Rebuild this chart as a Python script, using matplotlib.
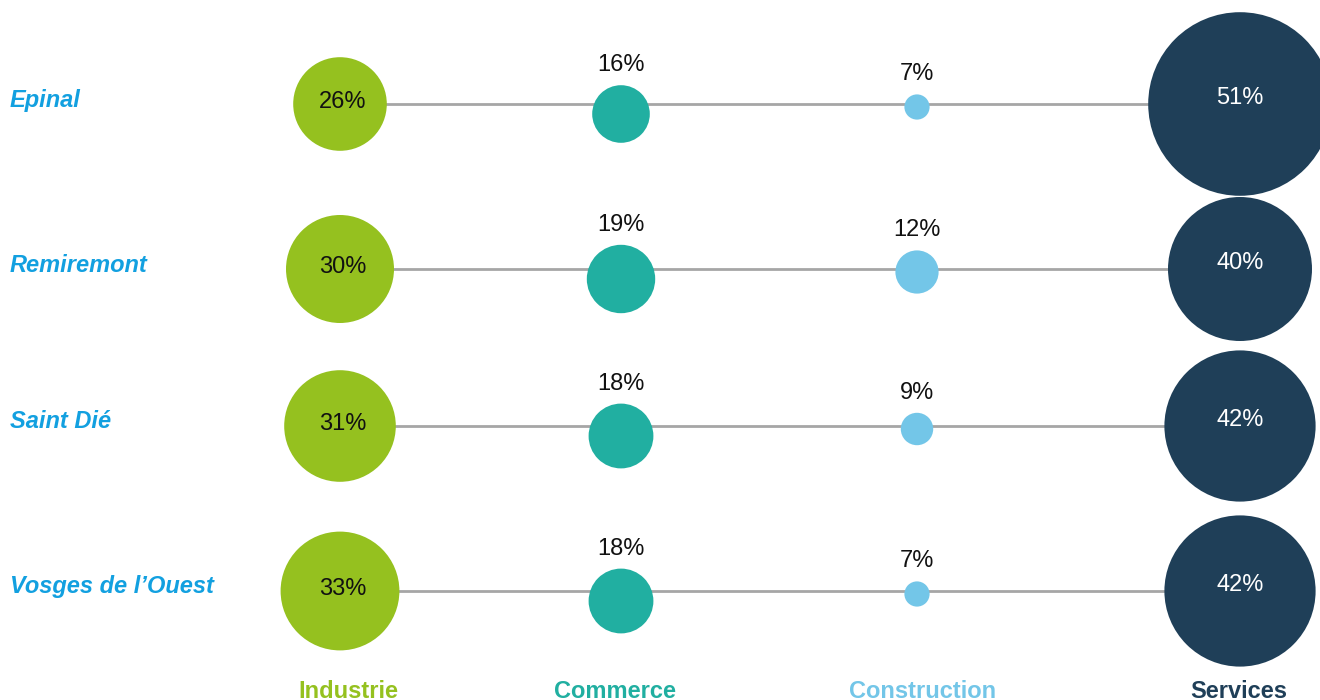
import matplotlib.pyplot as plt
from matplotlib.patches import Circle

plt.rcParams['font.family'] = ['Liberation Sans', 'DejaVu Sans']

zones = ["Epinal", "Remiremont", "Saint Dié", "Vosges de l\u2019Ouest"]
sectors = ["Industrie", "Commerce", "Construction", "Services"]
industrie = [26, 30, 31, 33]
commerce = [16, 19, 18, 18]
construction = [7, 12, 9, 7]
services = [51, 40, 42, 42]

colors = ["#95C11F", "#21AFA1", "#73C6E8", "#1F3F58"]
label_color = "#12A0E0"

# layout in pixel units (figure is 1320x700)
col_x = [340, 621, 917, 1240]
row_y = [104, 269, 426, 591]
dy = [0, 10, 3, 0]          # commerce / construction sit a bit lower
px_per_pct = 1.8            # radius in px per percent
sector_dx = [8, -6, 6, -1]  # footer label offsets

fig = plt.figure(figsize=(13.2, 7), dpi=100)
ax = fig.add_axes([0, 0, 1, 1])
ax.set_xlim(0, 1320)
ax.set_ylim(700, 0)
ax.set_aspect('equal')
ax.axis('off')

series = [industrie, commerce, construction, services]
for i, zone in enumerate(zones):
    y = row_y[i]
    ax.plot([col_x[0], col_x[-1]], [y, y], color="#A6A6A6", lw=2, zorder=1)
    ax.text(10, y - 4, zone, ha='left', va='center', fontsize=17,
            fontweight='bold', fontstyle='italic', color=label_color)
    for j, vals in enumerate(series):
        v = vals[i]
        r = v * px_per_pct
        cy = y + dy[j]
        ax.add_patch(Circle((col_x[j], cy), r, color=colors[j], lw=0, zorder=2))
        if j == 0:
            ax.text(col_x[j] + 3, cy - 2, f"{v}%", ha='center', va='center',
                    fontsize=17, color="#111111", zorder=3)
        elif j == 3:
            ax.text(col_x[j], cy - 6, f"{v}%", ha='center', va='center',
                    fontsize=17, color="white", zorder=3)
        else:
            ax.text(col_x[j], cy - r - 20, f"{v}%", ha='center', va='center',
                    fontsize=17, color="#111111", zorder=3)

for j, s in enumerate(sectors):
    ax.text(col_x[j] + sector_dx[j], 691, s, ha='center', va='center',
            fontsize=17, fontweight='bold', color=colors[j])

fig.savefig("out.png", dpi=100)
